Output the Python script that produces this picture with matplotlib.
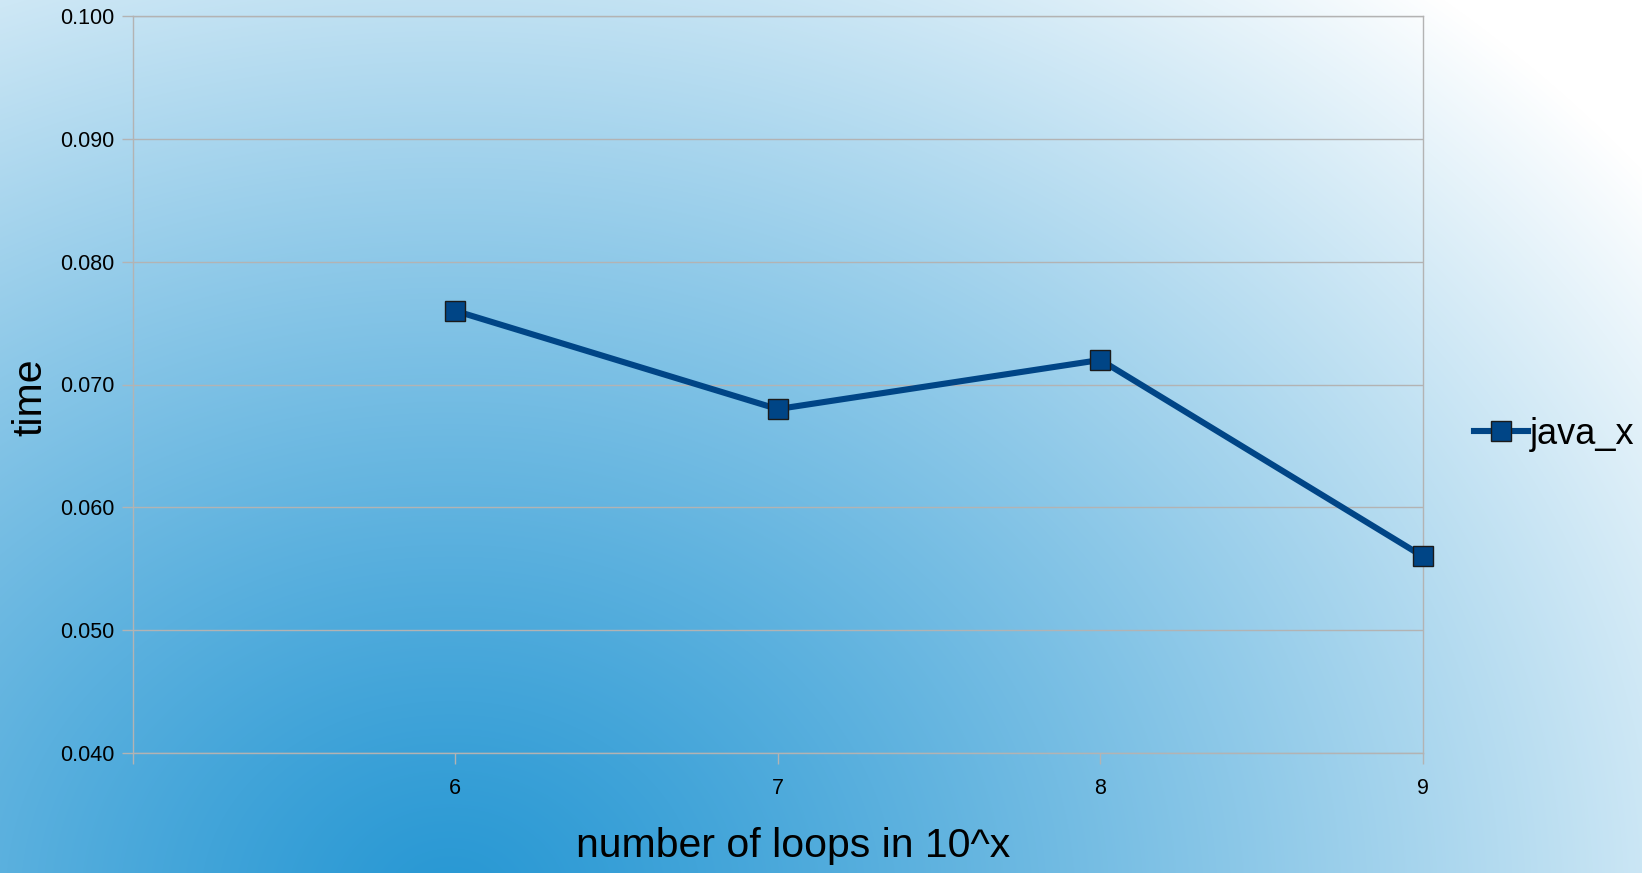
import numpy as np
import matplotlib
matplotlib.use("Agg")
import matplotlib.pyplot as plt
from matplotlib.lines import Line2D

plt.rcParams['font.family'] = ['Liberation Sans', 'DejaVu Sans']

# Data
loops_exp = [6, 7, 8, 9]
java_x_time = [0.076, 0.068, 0.072, 0.056]
series_name = "java_x"
y_ticks = [0.040, 0.050, 0.060, 0.070, 0.080, 0.090, 0.100]

W, H, DPI = 1642, 873, 100
fig = plt.figure(figsize=(W / DPI, H / DPI), dpi=DPI)

# Elliptical blue-to-white background gradient
bg = fig.add_axes([0, 0, 1, 1], zorder=-10)
bg.set_axis_off()
yy, xx = np.mgrid[0:H, 0:W]
t = np.sqrt(((xx - 450) / 1500.0) ** 2 + ((yy - 900) / 1200.0) ** 2)
t = np.clip(t, 0, 1) ** 1.2
dark = np.array([40, 152, 212]) / 255.0
white = np.array([1.0, 1.0, 1.0])
img = dark[None, None, :] * (1 - t[..., None]) + white[None, None, :] * t[..., None]
bg.imshow(img, extent=[0, 1, 0, 1], aspect='auto', origin='upper')
bg.set_xlim(0, 1)
bg.set_ylim(0, 1)

ax = fig.add_axes([132.5 / W, 1 - 753 / H, (1423 - 132.5) / W, (753 - 16) / H])
ax.set_facecolor('none')

grid_c = '#b3b3b3'
line_c = '#004586'

ax.plot(loops_exp, java_x_time, color=line_c, lw=4.4, marker='s', ms=14.5,
        markerfacecolor=line_c, markeredgecolor='#1a1a1a', markeredgewidth=1.0,
        solid_joinstyle='round', zorder=5, clip_on=False)

ax.set_xlim(5, 9)
ax.set_ylim(0.040, 0.100)
ax.set_yticks(y_ticks)
ax.set_yticklabels([f"{v:.3f}" for v in y_ticks])
ax.set_xticks([5] + loops_exp)
ax.set_xticklabels([""] + [str(v) for v in loops_exp])
ax.yaxis.grid(True, color=grid_c, lw=1.0)
ax.set_axisbelow(True)

for s in ax.spines.values():
    s.set_color(grid_c)
    s.set_linewidth(1.0)

ax.tick_params(axis='both', colors=grid_c, length=8, width=1.0, direction='out',
               labelcolor='black', labelsize=15.5)
ax.tick_params(axis='y', pad=5)
ax.tick_params(axis='x', pad=10)

fig.text(793 / W, 1 - 846 / H, "number of loops in 10^x", fontsize=29.5,
         ha='center', va='center')
fig.text(30 / W, 1 - 397 / H, "time", fontsize=29.5, rotation=90,
         ha='center', va='center')

handle = Line2D([], [], color=line_c, lw=4.4, marker='s', ms=14.5,
                markerfacecolor=line_c, markeredgecolor='#1a1a1a', markeredgewidth=1.0)
fig.legend([handle], [series_name], loc='center left',
           bbox_to_anchor=(1474 / W, 1 - 434 / H), frameon=False, fontsize=26,
           handlelength=1.5, handletextpad=0.05, borderpad=0, borderaxespad=0)

fig.savefig("out.png", dpi=DPI)
